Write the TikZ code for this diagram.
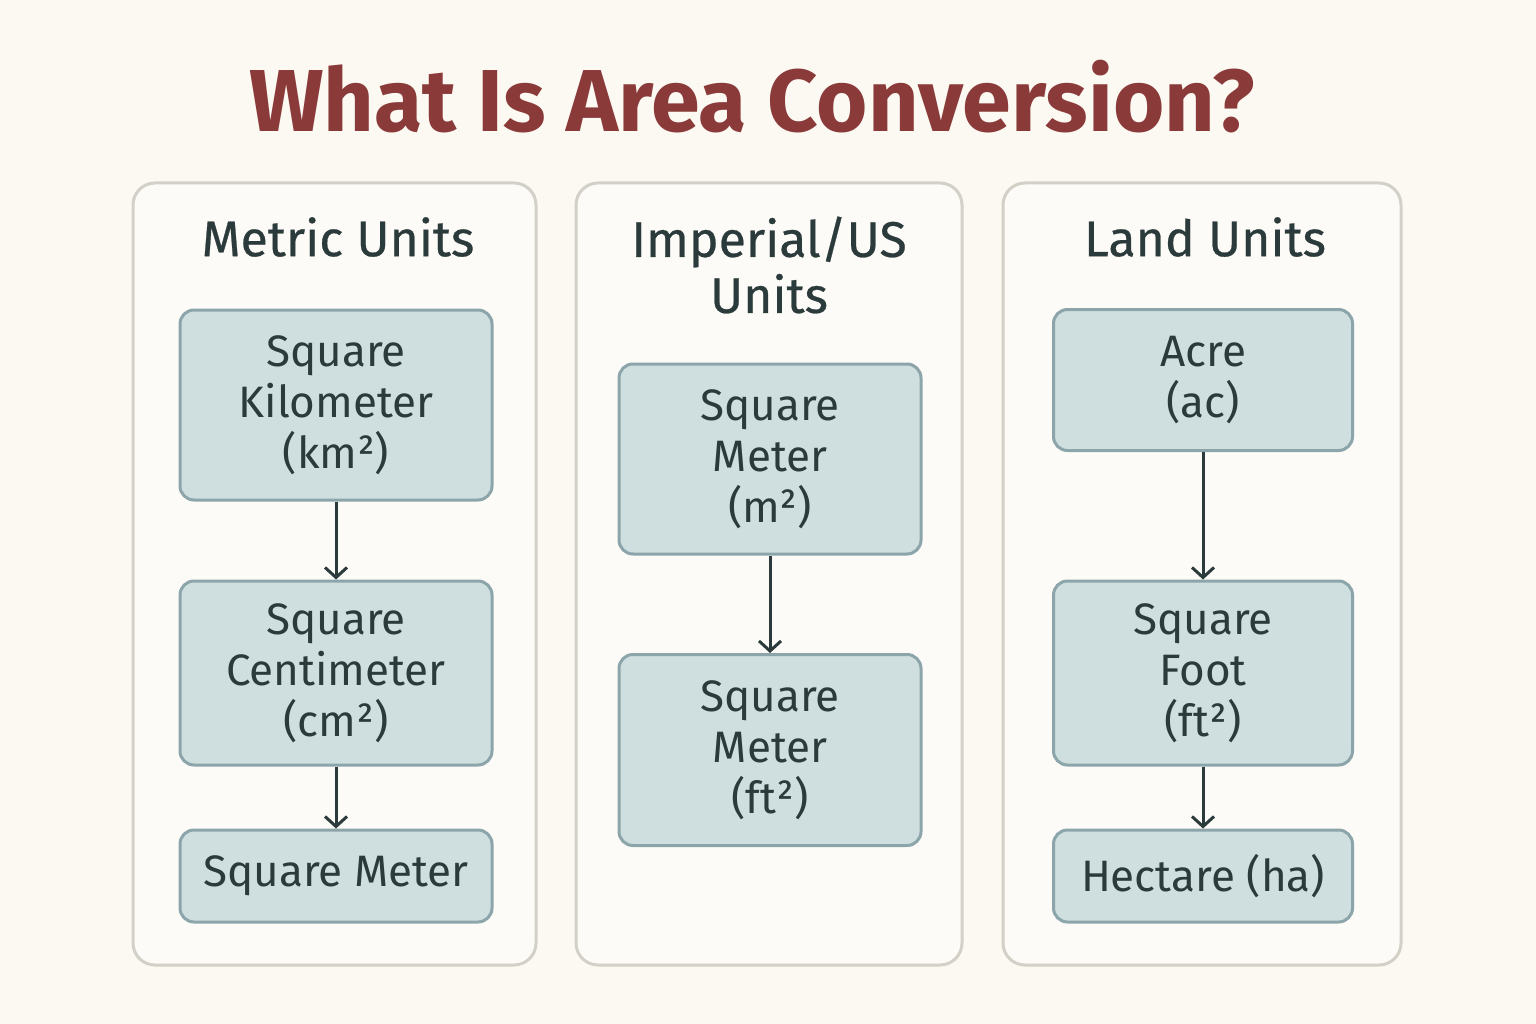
\documentclass[tikz,border=0pt]{standalone}
\usepackage{fontspec}
\setmainfont{Fira Sans}
\usetikzlibrary{arrows.meta}
\definecolor{bg}{HTML}{FCF9F2}
\definecolor{panelbd}{HTML}{D3D0C8}
\definecolor{boxfill}{HTML}{CFDFDF}
\definecolor{boxbd}{HTML}{8CA5AA}
\definecolor{ink}{HTML}{2B3A3A}
\definecolor{titlec}{HTML}{8B3A3A}
\tikzset{
 panel/.style={draw=panelbd,line width=3pt,rounded corners=22pt,fill=bg!60!white},
 unitbox/.style={draw=boxbd,line width=3pt,rounded corners=14pt,fill=boxfill,text=ink,
   font=\fontsize{44}{51}\selectfont,align=center,inner sep=0pt},
 head/.style={text=ink,font=\fontsize{50}{56}\selectfont\addfontfeature{FakeBold=0.5},align=center},
 conn/.style={draw=ink,line width=3pt,-{Straight Barb[length=10pt,width=22pt]}}
}
\begin{document}
\begin{tikzpicture}[x=1pt,y=-1pt]
\fill[bg] (0,0) rectangle (1536,1024);
\useasboundingbox (0,0) rectangle (1536,1024);
\node[text=titlec,font=\fontsize{88}{90}\selectfont\bfseries] (title) at (752,97) {What Is Area Conversion?};
\draw[panel] (133,183) rectangle (536,965);
\draw[panel] (576,183) rectangle (962,965);
\draw[panel] (1003,183) rectangle (1401,965);
\node[head] (h1) at (338,237) {Metric Units};
\node[head] (h2) at (769,265) {Imperial/US\\Units};
\node[head] (h3) at (1205,237) {Land Units};
% metric
\node[unitbox,minimum width=312pt,minimum height=190pt] (m1) at (336,405) {Square\\Kilometer\\(km²)};
\node[unitbox,minimum width=312pt,minimum height=184pt] (m2) at (336,673) {Square\\Centimeter\\(cm²)};
\node[unitbox,minimum width=312pt,minimum height=92pt] (m3) at (336,876) {Square Meter};
\draw[conn] (m1.south) -- (m2.north);
\draw[conn] (m2.south) -- (m3.north);
% imperial
\node[unitbox,minimum width=302pt,minimum height=190pt] (i1) at (770,459) {Square\\Meter\\(m²)};
\node[unitbox,minimum width=302pt,minimum height=191pt] (i2) at (770,750) {Square\\Meter\\(ft²)};
\draw[conn] (i1.south) -- (i2.north);
% land
\node[unitbox,minimum width=299pt,minimum height=141pt] (l1) at (1203,380) {Acre\\(ac)};
\node[unitbox,minimum width=299pt,minimum height=184pt] (l2) at (1203,673) {Square\\Foot\\(ft²)};
\node[unitbox,minimum width=299pt,minimum height=92pt] (l3) at (1203,876) {Hectare (ha)};
\draw[conn] (l1.south) -- (l2.north);
\draw[conn] (l2.south) -- (l3.north);
\end{tikzpicture}
\end{document}
